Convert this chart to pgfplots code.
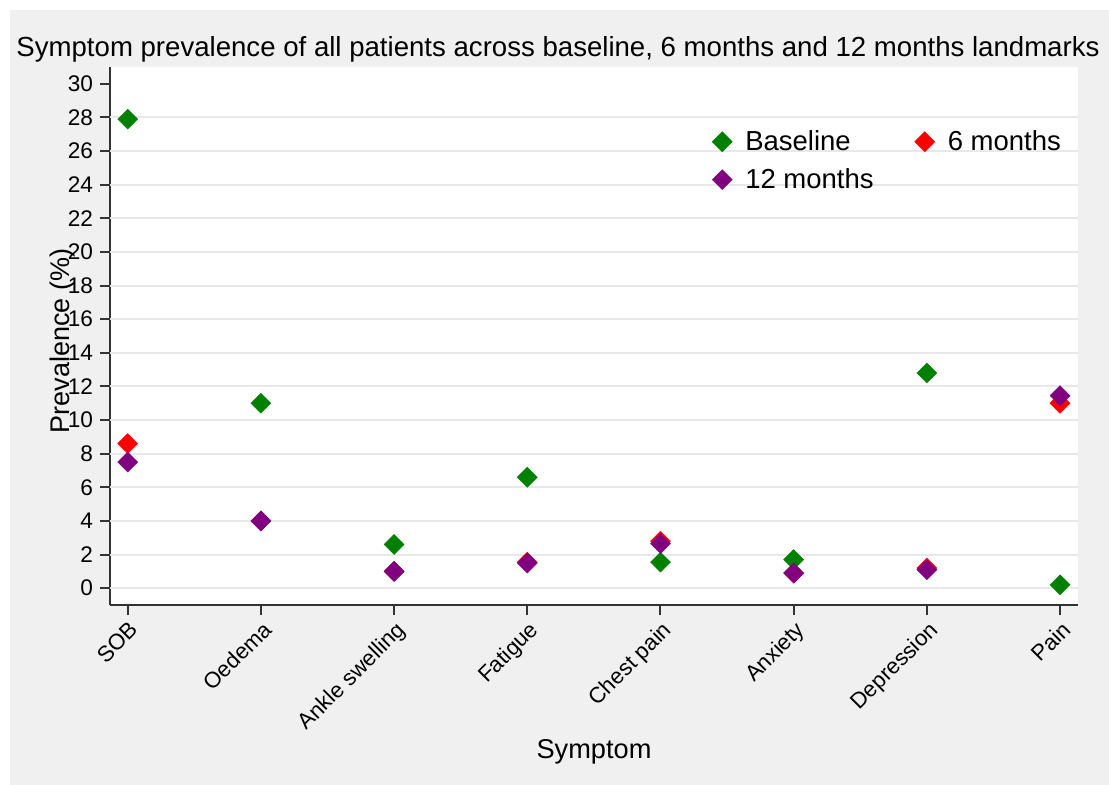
\documentclass[border=0pt]{standalone}
\usepackage{fontspec}
\setmainfont{Liberation Sans}
\usepackage{pgfplots}
\pgfplotsset{compat=1.18}
\definecolor{bggray}{HTML}{F0F0F0}
\definecolor{gridgray}{HTML}{E8E8E8}
\definecolor{axgray}{HTML}{333333}
\definecolor{stgreen}{HTML}{008000}
\definecolor{stred}{HTML}{FF0000}
\definecolor{stpurple}{HTML}{800080}
\begin{document}
\begin{tikzpicture}
\useasboundingbox (0pt,0pt) rectangle (554.5pt,-392.5pt);
\fill[white] (0pt,0pt) rectangle (554.5pt,-392.5pt);
\fill[bggray] (5pt,-5pt) rectangle (554.5pt,-392.5pt);
\node[anchor=base, inner sep=0pt, font=\fontsize{13.8}{16}\selectfont] at (279pt,-28.5pt) {Symptom prevalence of all patients across baseline, 6 months and 12 months landmarks};
\begin{axis}[
  at={(55pt,-302.5pt)}, anchor=south west,
  scale only axis, width=484pt, height=269pt,
  xmin=-0.133, xmax=7.135, ymin=-1, ymax=31,
  axis background/.style={fill=white},
  axis lines*=left,
  axis line style={-, draw=axgray, line width=1pt},
  tick style={draw=axgray, line width=1pt},
  major tick length=5pt,
  tick align=outside,
  xtick={0,...,7},
  xticklabels={SOB,Oedema,Ankle swelling,Fatigue,Chest pain,Anxiety,Depression,Pain},
  xticklabel style={rotate=45, anchor=north east, inner sep=1.8pt, xshift=0.5pt, font=\fontsize{11.1}{13}\selectfont},
  ytick={0,2,...,30},
  yticklabel style={font=\fontsize{11.3}{13}\selectfont},
  /pgf/number format/assume math mode=true,
  extra y ticks={0,2,...,28},
  extra y tick labels={},
  extra y tick style={grid=major, major tick length=0pt},
  grid style={draw=gridgray, line width=1pt},
  xlabel={Symptom},
  xlabel style={at={(axis description cs:0.5,-0.2862)}, anchor=base, font=\fontsize{13.6}{15}\selectfont},
  ylabel={Prevalence (\%)},
  ylabel style={at={(axis description cs:-0.049,0.4907)}, anchor=center, font=\fontsize{13.5}{15}\selectfont},
  legend style={at={(axis description cs:0.6155,0.898)}, anchor=north west, draw=none, fill=none,
    row sep=3.5pt,
    font=\fontsize{13.75}{16}\selectfont,
    /tikz/every odd column/.append style={column sep=4.5pt},
    /tikz/every even column/.append style={column sep=18.5pt}},
  legend columns=2,
  legend cell align=left,
]
\addplot[only marks, mark=square*, mark size=3.55pt, mark options={rotate=45, fill=stgreen, draw=stgreen, line width=0.2pt}]
 table[x=x,y=y]{
x y
0 27.9
1 11.0
2 2.6
3 6.6
4 1.55
5 1.7
6 12.8
7 0.2
};
\addlegendentry{Baseline}
\addplot[only marks, mark=square*, mark size=3.55pt, mark options={rotate=45, fill=stred, draw=stred, line width=0.2pt}]
 table[x=x,y=y]{
x y
0 8.6
1 4.0
2 1.0
3 1.55
4 2.8
5 0.9
6 1.2
7 11.0
};
\addlegendentry{6 months}
\addplot[only marks, mark=square*, mark size=3.55pt, mark options={rotate=45, fill=stpurple, draw=stpurple, line width=0.2pt}]
 table[x=x,y=y]{
x y
0 7.5
1 4.0
2 1.0
3 1.5
4 2.65
5 0.9
6 1.1
7 11.45
};
\addlegendentry{12 months}
\end{axis}
\end{tikzpicture}
\end{document}
